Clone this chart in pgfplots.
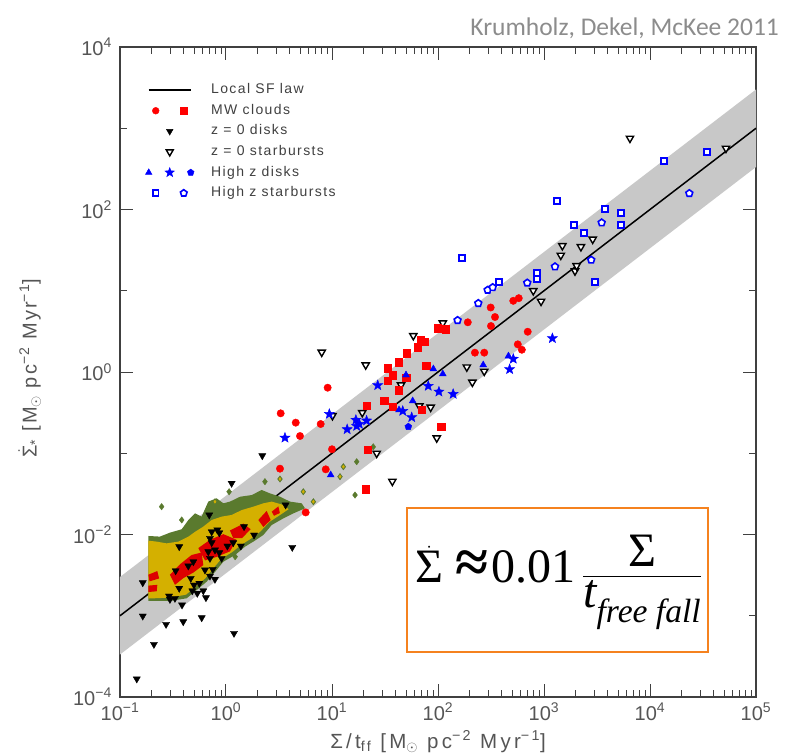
\documentclass[border=0pt]{standalone}
\usepackage{amsmath}
\usepackage{fontspec}
\setmainfont{Liberation Sans}
\newfontfamily\tnr{Liberation Serif}
\newfontfamily\carlito{Carlito}
\newfontfamily\hershey[LetterSpace=10]{Liberation Sans}
\newfontfamily\hersheyx[LetterSpace=16]{Liberation Sans}
\usepackage{pgfplots}
\pgfplotsset{compat=1.18}
\usetikzlibrary{plotmarks}
\definecolor{bandgray}{HTML}{C8C8C8}
\definecolor{olivec}{HTML}{5A7A2E}
\definecolor{yellowc}{HTML}{D4B000}
\definecolor{contred}{HTML}{DD0000}
\definecolor{axgray}{HTML}{404040}
\definecolor{tickgray}{HTML}{555555}
\definecolor{titlegray}{HTML}{8C8C8C}
\definecolor{boxorange}{HTML}{F5821F}
\pgfdeclareplotmark{fstar}{%
  \pgfpathmoveto{\pgfpointpolar{90}{\pgfplotmarksize}}%
  \pgfpathlineto{\pgfpointpolar{126}{0.42\pgfplotmarksize}}%
  \pgfpathlineto{\pgfpointpolar{162}{\pgfplotmarksize}}%
  \pgfpathlineto{\pgfpointpolar{198}{0.42\pgfplotmarksize}}%
  \pgfpathlineto{\pgfpointpolar{234}{\pgfplotmarksize}}%
  \pgfpathlineto{\pgfpointpolar{270}{0.42\pgfplotmarksize}}%
  \pgfpathlineto{\pgfpointpolar{306}{\pgfplotmarksize}}%
  \pgfpathlineto{\pgfpointpolar{342}{0.42\pgfplotmarksize}}%
  \pgfpathlineto{\pgfpointpolar{18}{\pgfplotmarksize}}%
  \pgfpathlineto{\pgfpointpolar{54}{0.42\pgfplotmarksize}}%
  \pgfpathclose
  \pgfusepathqfillstroke}
\begin{document}
\begin{tikzpicture}
\path[use as bounding box] (-120bp,-57bp) rectangle (667bp,697bp);
\begin{axis}[
  scale only axis, width=636bp, height=650bp,
  at={(0,0)}, anchor=south west,
  xmode=log, ymode=log,
  xmin=0.1, xmax=1e5, ymin=1e-4, ymax=1e4,
  xtick={0.1,1,10,100,1000,10000,100000},
  xticklabels={10\textsuperscript{−1},10\textsuperscript{0},10\textsuperscript{1},10\textsuperscript{2},10\textsuperscript{3},10\textsuperscript{4},10\textsuperscript{5}},
  minor xtick={0.2,0.3,0.4,0.5,0.6,0.7,0.8,0.9,2,3,4,5,6,7,8,9,20,30,40,50,60,70,80,90,200,300,400,500,600,700,800,900,2000,3000,4000,5000,6000,7000,8000,9000,20000,30000,40000,50000,60000,70000,80000,90000},
  ytick={1e-4,1e-2,1,100,1e4},
  yticklabels={10\textsuperscript{−4},10\textsuperscript{−2},10\textsuperscript{0},10\textsuperscript{2},10\textsuperscript{4}},
  minor ytick={1e-3,0.1,10,1000},
  tick align=inside,
  major tick length=13bp, minor tick length=7bp,
  axis line style={draw=axgray, line width=1.2bp},
  every tick/.style={draw=axgray, line width=1bp},
  tick label style={font=\fontsize{20bp}{22bp}\selectfont, text=tickgray, inner sep=0pt},
  xticklabel style={yshift=-6bp},
  yticklabel style={xshift=-8bp},
  xlabel={Σ/t\textsubscript{ff} [M\textsubscript{$\odot$} pc\textsuperscript{−2} Myr\textsuperscript{−1}]},
  xlabel style={at={(axis description cs:0.5,-0.0785)}, anchor=base, font=\hersheyx\fontsize{20.5bp}{22bp}\selectfont, text=tickgray, inner sep=0pt},
  ylabel={$\dot{\text{Σ}}$\textsubscript{*} [M\textsubscript{$\odot$} pc\textsuperscript{−2} Myr\textsuperscript{−1}]},
  ylabel style={at={(axis description cs:-0.142,0.506)}, anchor=center, font=\hershey\fontsize{20bp}{22bp}\selectfont, text=tickgray, inner sep=0pt},
  legend style={at={(axis description cs:0.0397,0.9447)}, anchor=north west, draw=none, fill=none,
    font=\hershey\fontsize{14bp}{16bp}\selectfont, text=axgray, inner sep=0pt, row sep=6.6bp,
    nodes={inner sep=0pt, text height=10.5bp, text depth=3.5bp}, /tikz/every odd column/.style={column sep=17bp}},
  legend cell align=left,
]
% gray band
\addplot[fill=bandgray, draw=none, forget plot] coordinates {(0.1,3.333e-4) (1e5,333.3) (1e5,3000) (0.1,0.003)};
% local SF law
\addplot[black, line width=1.5bp, forget plot] coordinates {(0.1,0.001) (1e5,1000)};
% contours: green
\addplot[fill=olivec, draw=none, forget plot] coordinates {
(0.185,0.00959) (0.238,0.00942) (0.296,0.01054) (0.382,0.0116) (0.442,0.0151) (0.511,0.0182)
(0.589,0.0166) (0.681,0.0254) (0.816,0.0279) (0.944,0.0242) (1.09,0.0254) (1.36,0.0292)
(1.75,0.0306) (2.17,0.0353) (2.60,0.0321) (3.23,0.0292) (4.02,0.0254) (5.17,0.0242)
(5.56,0.0210) (4.32,0.0182) (3.48,0.0158) (2.70,0.0131) (2.25,0.00986) (1.81,0.00817)
(1.51,0.00708) (1.22,0.00560) (0.944,0.00463) (0.816,0.00366) (0.658,0.00263) (0.529,0.00207)
(0.426,0.00164) (0.296,0.00152) (0.185,0.00153)};
% contours: yellow
\addplot[fill=yellowc, draw=none, forget plot] coordinates {
(0.185,0.00840) (0.222,0.00817) (0.275,0.00778) (0.355,0.00817) (0.442,0.00942) (0.511,0.0108)
(0.611,0.0125) (0.733,0.0151) (0.910,0.0166) (1.13,0.0174) (1.41,0.0200) (1.81,0.0220)
(2.25,0.0242) (2.70,0.0254) (3.48,0.0231) (3.9,0.0205) (3.2,0.0172) (2.55,0.0142)
(2.1,0.0108) (1.7,0.0088) (1.4,0.0075) (1.15,0.0061) (0.9,0.0050) (0.78,0.0040)
(0.64,0.0029) (0.52,0.0023) (0.42,0.00182) (0.296,0.00167) (0.185,0.00163)};
% contours: red
\addplot[fill=contred, draw=none, forget plot] coordinates {(0.296,0.00320) (0.368,0.00430) (0.474,0.00560) (0.589,0.00600) (0.611,0.00420) (0.492,0.00340) (0.395,0.00290) (0.330,0.00240)};
\addplot[fill=contred, draw=none, forget plot] coordinates {(0.548,0.00680) (0.706,0.00860) (0.944,0.0101) (1.26,0.00860) (1.09,0.00620) (0.816,0.00530) (0.634,0.00480)};
\addplot[fill=contred, draw=none, forget plot] coordinates {(1.09,0.0112) (1.46,0.0136) (1.71,0.0116) (1.41,0.00900) (1.17,0.00900)};
\addplot[fill=contred, draw=none, forget plot] coordinates {(2.02,0.0151) (2.42,0.0195) (2.64,0.0151) (2.25,0.0124)};
\addplot[fill=contred, draw=none, forget plot] coordinates {(2.70,0.0191) (3.12,0.0222) (3.22,0.0184) (2.84,0.0170)};
\addplot[fill=contred, draw=none, forget plot] coordinates {(0.185,0.00320) (0.225,0.00355) (0.234,0.00288) (0.190,0.00265)};
\addplot[fill=contred, draw=none, forget plot] coordinates {(0.185,0.00235) (0.225,0.00240) (0.222,0.00200) (0.185,0.00196)};
% small contour islands
\addplot[only marks, mark=diamond*, mark size=3.2bp, mark options={fill=olivec, draw=olivec}, forget plot] coordinates {
(3.23,0.0482) (2.33,0.0447) (1.07,0.0336) (0.787,0.0253) (11.9,0.0515) (12.8,0.0683) (17.1,0.0787)
(16.5,0.0306) (5.36,0.0336) (6.67,0.0253) (24.5,0.120) (0.247,0.0220) (0.382,0.0151) (1.22,0.00533)};
\addplot[only marks, mark=diamond*, mark size=1.5bp, mark options={fill=yellowc, draw=yellowc}, forget plot] coordinates {
(3.23,0.0482) (11.9,0.0515) (12.8,0.0683) (5.36,0.0336) (6.67,0.0253) (0.787,0.0253)};
% legend images
\addlegendimage{legend image code/.code={\draw[black, line width=1.5bp] (0bp,0bp) -- (42bp,0bp);}}
\addlegendentry{Local SF law}
\addlegendimage{legend image code/.code={\fill[red] (7bp,0bp) circle (3.4bp); \fill[red] (31.6bp,-3.4bp) rectangle (38.4bp,3.4bp);}}
\addlegendentry{MW clouds}
\addlegendimage{legend image code/.code={\path plot[only marks, mark=triangle*, mark size=3.8bp, mark options={rotate=180, fill=black, draw=black}] coordinates {(21bp,0bp)};}}
\addlegendentry{z = 0 disks}
\addlegendimage{legend image code/.code={\path plot[only marks, mark=triangle*, mark size=4bp, mark options={rotate=180, fill=white, draw=black, line width=1.4bp}] coordinates {(21bp,0bp)};}}
\addlegendentry{z = 0 starbursts}
\addlegendimage{legend image code/.code={\path plot[only marks, mark=triangle*, mark size=3.8bp, mark options={fill=blue, draw=blue}] coordinates {(0bp,0bp)}; \path plot[only marks, mark=fstar, mark size=5bp, mark options={fill=blue, draw=blue}] coordinates {(21bp,0bp)}; \path plot[only marks, mark=pentagon*, mark size=3.5bp, mark options={fill=blue, draw=blue}] coordinates {(42bp,0bp)};}}
\addlegendentry{High z disks}
\addlegendimage{legend image code/.code={\path plot[only marks, mark=square*, mark size=2.9bp, mark options={fill=white, draw=blue, line width=1.7bp}] coordinates {(7bp,0bp)}; \path plot[only marks, mark=pentagon*, mark size=3.5bp, mark options={fill=white, draw=blue, line width=1.6bp}] coordinates {(35bp,0bp)};}}
\addlegendentry{High z starbursts}
% z = 0 disks
\addplot[only marks, mark=triangle*, mark size=4.1bp, mark options={rotate=180, fill=black, draw=black}, forget plot] coordinates {
(1.13,0.0427) (0.695,0.0174) (0.362,0.00708) (0.733,0.0108) (0.828,0.0114) (0.865,0.0105)
(0.706,0.00898) (0.733,0.00793) (0.681,0.00614) (0.706,0.00509) (0.787,0.00645) (0.865,0.00597)
(0.910,0.00509) (1.03,0.00722) (1.17,0.00793) (1.38,0.00722) (1.48,0.0125) (1.84,0.00986)
(3.65,0.0231) (4.22,0.00695) (0.492,0.00462) (0.441,0.00410) (0.335,0.00358) (0.634,0.00366)
(0.750,0.00373) (0.706,0.00308) (0.787,0.00281) (0.465,0.00289) (0.499,0.00239) (0.560,0.00251)
(0.481,0.00203) (0.536,0.00189) (0.611,0.00203) (0.647,0.00167) (0.362,0.00218) (0.290,0.00175)
(0.296,0.00159) (0.330,0.00164) (0.385,0.00136) (0.164,0.00255) (0.164,0.000993) (0.272,0.000785)
(0.395,0.000845) (0.590,0.000946) (1.19,0.000608) (0.209,0.000445) (0.144,0.000167) (2.20,0.0933)};
% z = 0 starbursts
\addplot[only marks, mark=triangle*, mark size=4.2bp, mark options={rotate=180, fill=white, draw=black, line width=1.4bp}, forget plot] coordinates {
(8.0,1.75) (20.8,1.22) (58.5,2.80) (111,4.01) (10.1,0.290) (19.3,0.316) (44.8,0.692) (66.7,0.382)
(85.3,0.368) (187,1.15) (211,0.747) (273,1.02) (26.4,0.0998) (97.3,0.154) (37.1,0.0451)
(792,10.0) (938,7.41) (1440,27.3) (1490,35.8) (1960,17.5) (2030,20.3) (2230,34.8) (2880,43.0)
(6470,752) (52100,566)};
% MW clouds: circles
\addplot[only marks, mark=*, mark size=3.7bp, mark options={fill=red, draw=red}, forget plot] coordinates {
(191,4.09) (314,6.22) (345,4.75) (316,3.68) (513,7.52) (578,8.10) (702,3.13) (566,2.19) (618,1.88)
(223,1.73) (273,1.73) (9.10,0.641) (7.82,0.229) (10.0,0.112) (4.99,0.163) (8.73,0.0634)
(3.28,0.310) (4.55,0.238) (3.23,0.0646) (5.65,0.0187)};
% MW clouds: squares
\addplot[only marks, mark=square*, mark size=3.7bp, mark options={fill=red, draw=red}, forget plot] coordinates {
(99.3,3.45) (118,3.35) (68.7,2.48) (73.8,2.36) (64.3,2.01) (50.7,1.70) (42.6,1.32) (77.1,1.20)
(33.5,1.11) (37.4,0.918) (33.5,0.782) (49.9,0.851) (42.6,0.600) (31.1,0.443) (37.6,0.374)
(21.2,0.382) (70.6,0.341) (107,0.212) (21.7,0.110) (20.8,0.0360)};
% high z disks: triangles
\addplot[only marks, mark=triangle*, mark size=4bp, mark options={fill=blue, draw=blue}, forget plot] coordinates {
(49.9,0.918) (90.4,1.09) (111,0.945) (267,1.22) (462,1.57) (9.72,0.054) (57.7,0.440) (42.9,0.341)};
% high z disks: stars
\addplot[only marks, mark=fstar, mark size=5.3bp, mark options={fill=blue, draw=blue}, forget plot] coordinates {
(27.0,0.686) (80.9,0.673) (102,0.572) (139,0.536) (9.44,0.304) (13.9,0.197) (16.8,0.257) (18.1,0.229)
(21.2,0.252) (17.1,0.216) (46.5,0.331) (56.5,0.277) (513,1.45) (474,1.08) (1200,2.60) (3.60,0.155)};
% high z disks: pentagon
\addplot[only marks, mark=pentagon*, mark size=3.6bp, mark options={fill=blue, draw=blue}, forget plot] coordinates {(52.5,0.212)};
% high z starbursts: squares
\addplot[only marks, mark=square*, mark size=3bp, mark options={fill=white, draw=blue, line width=1.8bp}, forget plot] coordinates {
(168,25.1) (1330,127) (1910,63.9) (2380,50.9) (3790,101) (5350,89.8) (5350,63.9) (853,16.4)
(853,13.9) (376,12.8) (3010,12.8) (13600,399) (34300,506)};
% high z starbursts: pentagons
\addplot[only marks, mark=pentagon*, mark size=3.6bp, mark options={fill=white, draw=blue, line width=1.6bp}, forget plot] coordinates {
(153,4.33) (240,7.01) (294,10.2) (328,11.0) (695,12.5) (1270,19.8) (2790,23.9) (3500,68.8) (23500,158)};
\end{axis}
\draw[boxorange, line width=2bp, fill=white] (287bp,45bp) rectangle (588bp,189bp);
\node[anchor=base west, inner sep=0pt, font=\tnr\fontsize{48bp}{50bp}\selectfont] at (295bp,114bp)
  {$\dot{\text{Σ}}$\hspace{12bp}{\fontsize{60bp}{60bp}\selectfont\bfseries ≈}\hspace{3bp}0.01\hspace{7bp}$\dfrac{\text{Σ}}{\text{\itshape t}_{\text{\itshape free fall}}}$};
\node[anchor=base east, inner sep=0pt, text=titlegray, font=\carlito\fontsize{25.5bp}{28bp}\selectfont] at (659bp,661bp) {Krumholz, Dekel, McKee 2011};
\end{tikzpicture}
\end{document}
